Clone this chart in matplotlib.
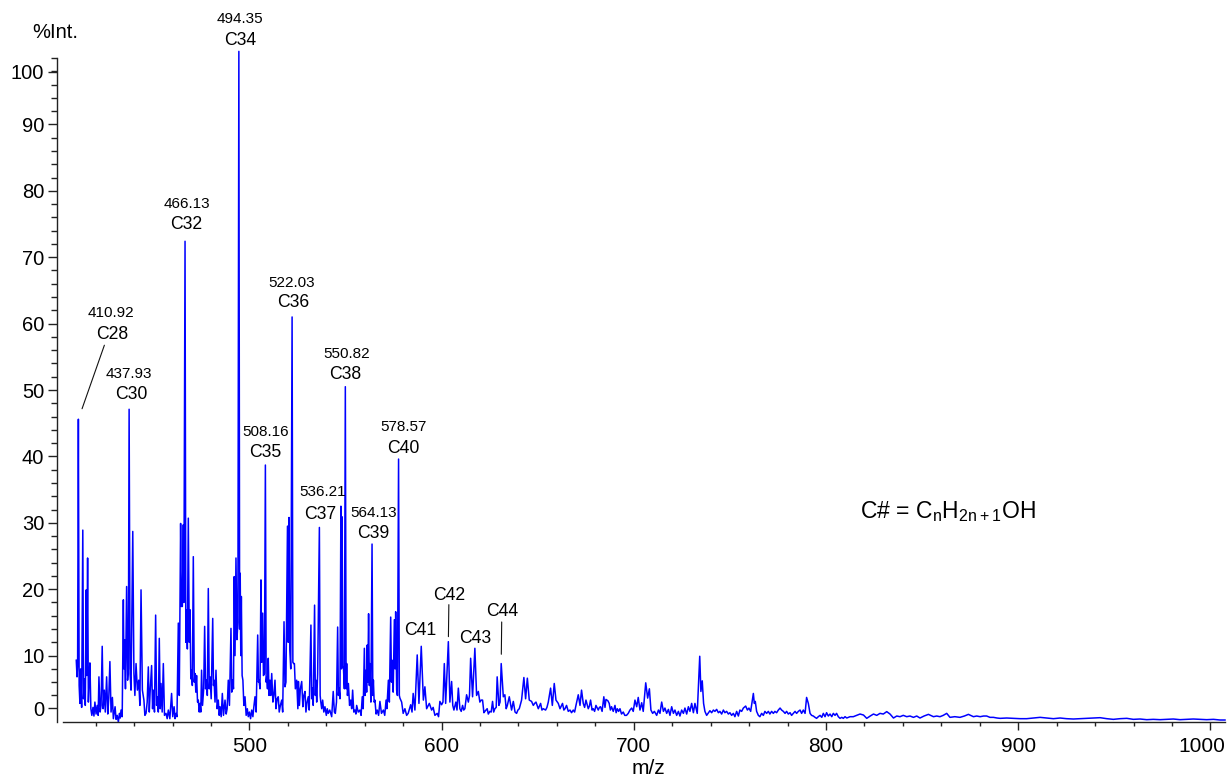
import numpy as np
import matplotlib
matplotlib.use("Agg")
import matplotlib.pyplot as plt
from matplotlib.ticker import FixedLocator
from matplotlib.transforms import ScaledTranslation

plt.rcParams['font.family'] = ['Liberation Sans', 'DejaVu Sans']

# spectrum (m/z, %Int.)
MZ_1 = [409.9, 410.3, 410.6, 411.0, 411.4, 411.8, 412.2, 412.7, 413.3, 413.7,
        414.1, 414.6, 415.1, 415.4, 415.8, 416.2, 416.6, 417.0, 417.5, 418.0,
        418.6, 419.1, 419.6, 420.2, 420.8, 421.3, 421.7, 422.3, 422.8, 423.4,
        423.9, 424.5, 425.0, 425.7, 426.3, 426.8, 427.4, 428.0, 428.7, 429.2,
        429.7, 430.1, 430.6, 431.2, 431.8, 432.4, 432.8, 433.2, 433.8, 434.4,
        434.7, 435.0, 435.5, 436.1, 436.6, 437.0, 437.4, 437.9, 438.4, 439.3,
        439.9, 440.4, 441.0, 441.7, 442.4, 443.0, 443.6, 444.3, 445.1, 445.6,
        446.2, 446.8, 447.4, 447.9, 448.3, 449.1, 449.6, 450.0, 450.6, 451.2,
        451.7, 452.1, 452.6, 453.1, 453.6, 454.0, 454.6, 455.2, 455.8, 456.6,
        457.2, 457.8, 458.6, 459.5, 460.1, 460.8, 461.3, 461.8, 462.3, 463.0,
        463.5, 464.2, 464.6, 465.1, 465.6, 465.9, 466.5, 466.9, 467.3, 467.7,
        468.2, 468.7, 469.1, 469.5, 469.9, 470.3, 470.8, 471.3, 471.7, 472.1,
        472.5, 473.0, 473.4, 473.9, 474.3, 474.7, 475.1, 475.6, 476.2, 476.7,
        477.2, 477.7, 478.1, 478.6, 479.1, 479.5, 480.1, 480.9, 481.3, 481.6,
        482.1, 482.6, 483.2, 483.8, 484.3, 484.7, 485.3, 485.9, 486.5, 487.3,
        487.9, 488.4, 489.0, 489.6, 490.4, 490.8, 491.3, 491.7, 492.1, 492.5,
        493.0, 493.5, 494.0, 494.5, 494.9, 495.2, 495.5, 495.8, 496.2, 496.6,
        497.1, 497.7, 498.3, 498.9, 499.4, 500.0, 500.6, 501.2, 501.8, 502.3,
        502.9, 503.5, 504.3, 504.7, 505.0, 505.5, 506.0, 506.4, 506.9, 507.3,
        507.8, 508.3, 508.7, 509.0, 509.4, 509.8, 510.2, 510.7, 511.1, 511.6,
        512.2, 512.7, 513.3, 513.8, 514.4, 515.0, 515.5, 516.1, 516.8, 517.3,
        518.0, 518.5, 519.0, 519.8, 520.2, 520.6, 521.0, 521.5, 522.2, 522.6,
        523.0, 523.4, 523.9, 524.6, 525.2, 525.5, 526.0, 526.5, 527.2, 527.8,
        528.3, 528.9, 529.4, 530.0, 530.6]
INT_1 = [9.3, 6.8, 8.5, 45.6, 5.5, 2.8, 8.0, 2.2, 28.9, 3.5,
         6.5, 2.5, 19.9, 7.0, 24.7, 3.0, 6.5, 8.9, 2.0, 1.0,
         2.2, 0.9, 3.0, 1.2, 2.5, 1.0, 6.8, 1.5, 2.5, 11.4,
         2.0, 4.8, 1.5, 6.8, 1.2, 3.5, 9.1, 1.5, 3.7, 0.5,
         1.5, 2.3, 0.4, 1.0, 0.0, 1.3, 0.6, 1.8, 0.8, 18.4,
         8.0, 12.4, 5.0, 20.4, 6.3, 8.0, 47.1, 7.3, 4.8, 28.7,
         7.3, 4.0, 8.8, 4.8, 6.3, 2.5, 19.9, 4.8, 3.3, 1.0,
         1.3, 3.0, 8.3, 1.5, 4.3, 8.5, 2.0, 4.8, 1.5, 16.1,
         2.5, 3.8, 1.5, 12.6, 2.0, 5.8, 1.5, 8.8, 1.0, 1.3,
         0.5, 1.8, 0.5, 4.3, 0.8, 2.3, 0.5, 1.3, 0.8, 14.9,
         4.0, 29.9, 17.4, 17.4, 29.7, 18.0, 72.4, 12.0, 16.9, 11.0,
         30.7, 12.0, 16.9, 6.5, 7.8, 5.5, 24.9, 6.0, 7.3, 4.5,
         7.0, 3.0, 3.3, 1.5, 2.8, 1.5, 7.8, 2.5, 5.0, 14.4,
         5.0, 6.3, 4.0, 20.1, 5.0, 6.8, 3.5, 15.6, 5.5, 6.3,
         3.0, 7.8, 2.0, 3.3, 1.0, 2.3, 0.8, 4.3, 1.0, 3.3,
         1.2, 2.0, 6.3, 2.5, 14.1, 4.5, 6.3, 5.0, 21.9, 10.0,
         24.7, 12.4, 15.0, 101.0, 14.0, 22.4, 10.0, 18.9, 7.0, 6.3,
         2.5, 3.8, 1.0, 2.0, 0.8, 1.5, 0.5, 1.8, 0.8, 2.3,
         3.8, 1.5, 13.1, 6.0, 6.3, 5.0, 21.4, 9.0, 16.4, 7.0,
         7.3, 38.7, 6.0, 6.8, 5.0, 9.6, 4.0, 6.3, 4.0, 7.3,
         3.0, 4.0, 6.3, 2.0, 3.5, 3.8, 1.5, 2.5, 3.3, 1.5,
         15.1, 5.3, 6.0, 29.5, 12.0, 30.8, 10.9, 8.0, 61.0, 9.0,
         8.8, 8.8, 5.0, 6.3, 2.0, 6.1, 2.5, 5.0, 6.1, 2.3,
         4.0, 4.6, 1.5, 3.0, 3.8]

MZ_2 = [531.1, 532.0, 532.4, 532.7, 533.2, 533.9, 534.3, 534.6, 535.0, 535.5,
        536.4, 536.8, 537.1, 537.6, 538.1, 538.7, 539.3, 540.0, 540.5, 541.0,
        541.8, 542.8, 543.6, 544.2, 544.7, 545.3, 545.9, 546.3, 546.6, 547.1,
        547.6, 547.9, 548.2, 548.6, 548.9, 549.4, 549.9, 550.3, 550.6, 551.0,
        551.5, 552.1, 552.7, 553.2, 553.7, 554.3, 554.9, 555.4, 555.8, 556.6,
        557.5, 558.1, 558.7, 559.2, 559.8, 560.2, 560.6, 561.0, 561.3, 561.6,
        562.0, 562.4, 562.7, 563.2, 563.8, 564.2, 564.5, 564.9, 565.3, 565.9,
        566.5, 567.2, 567.9, 568.7, 569.7, 570.4, 571.1, 571.5, 572.3, 572.8,
        573.5, 573.9, 574.3, 574.8, 575.4, 575.8, 576.1, 576.6, 577.0, 577.6,
        578.0, 578.3]
INT_2 = [1.8, 14.6, 3.5, 5.1, 2.5, 17.6, 4.0, 6.3, 3.0, 7.3,
         29.3, 4.0, 3.1, 2.0, 3.3, 1.5, 2.3, 1.0, 2.0, 1.3,
         1.8, 0.8, 4.6, 1.5, 1.3, 3.0, 14.3, 4.0, 5.1, 3.5,
         32.5, 8.0, 30.9, 8.3, 8.3, 5.0, 50.5, 5.0, 8.8, 4.0,
         5.8, 2.5, 3.3, 2.0, 4.8, 1.5, 1.8, 1.2, 2.5, 1.5,
         1.8, 1.0, 3.8, 2.0, 11.1, 4.0, 7.8, 4.5, 11.6, 6.0,
         16.3, 5.5, 8.8, 3.0, 26.8, 4.0, 6.3, 3.0, 3.3, 1.2,
         1.8, 1.0, 3.1, 1.3, 1.8, 1.0, 3.3, 2.0, 6.3, 3.0,
         15.8, 6.0, 9.3, 4.5, 15.4, 8.0, 16.6, 4.8, 4.0, 39.6,
         4.0, 3.6]

MZ_3 = [579.2, 580.0, 580.9, 581.8, 582.6, 583.9, 584.6, 585.2, 586.1, 587.3,
        588.2, 589.4, 590.5, 591.3, 592.2, 593.6, 594.8, 595.6, 596.5, 597.7,
        598.4, 599.1, 600.0, 600.7, 601.4, 602.1, 603.5, 604.3, 605.2, 605.8,
        606.4, 607.4, 608.0, 608.7, 609.5, 610.2, 610.9, 611.5, 612.1, 613.0,
        613.9, 614.5, 615.1, 616.1, 617.3, 618.2, 619.1, 619.9, 620.6, 621.3,
        622.0, 622.5, 623.7, 624.3, 625.1, 625.8, 626.5, 627.1, 627.7, 628.4,
        628.9, 629.8, 630.4, 631.0, 632.1, 632.9, 633.6, 634.2, 635.2, 636.4,
        637.3, 638.2, 639.0, 639.7, 640.4, 641.6, 642.8, 643.7, 644.6, 645.6,
        646.8, 647.7, 648.4, 649.1, 650.3, 651.5, 652.2, 652.9, 654.1, 654.8,
        655.5, 656.7, 657.6, 658.6, 659.5, 660.7, 661.6, 662.9, 663.6, 664.2,
        665.0, 665.9, 666.8, 667.6, 668.5, 669.2, 669.9, 671.1, 672.0, 672.8,
        673.7, 674.4, 675.1, 676.3, 676.9, 677.5, 678.3, 678.9, 679.6, 680.3,
        681.5, 682.1, 682.7, 683.5, 684.4, 685.0, 685.5, 686.5, 687.2, 687.8,
        688.4, 689.3, 690.2, 690.8, 691.4, 692.1, 692.8, 693.6, 694.5, 695.3,
        696.2, 697.1, 698.0]
INT_3 = [3.0, 1.3, 2.0, 1.0, 1.3, 2.6, 1.5, 4.3, 1.8, 10.1,
         2.8, 11.4, 3.3, 5.3, 2.0, 2.8, 1.8, 2.2, 1.0, 1.3,
         0.8, 3.1, 2.6, 3.0, 8.8, 2.8, 12.1, 3.0, 6.1, 2.5,
         1.8, 3.0, 1.8, 5.1, 2.0, 1.6, 2.5, 1.8, 2.0, 4.1,
         3.0, 4.0, 9.6, 3.8, 11.1, 4.0, 4.6, 3.0, 3.3, 3.3,
         1.4, 1.6, 2.0, 1.2, 1.6, 1.5, 3.1, 1.5, 2.0, 2.2,
         6.8, 2.5, 3.0, 8.8, 3.8, 4.1, 2.0, 2.5, 3.8, 1.8,
         3.1, 1.5, 1.3, 1.8, 2.0, 3.3, 6.7, 3.5, 6.6, 3.3,
         3.1, 2.5, 2.8, 3.0, 2.0, 2.8, 1.8, 2.0, 1.8, 2.2,
         3.0, 5.1, 2.5, 5.8, 3.3, 2.8, 2.0, 2.8, 1.8, 2.0,
         2.5, 1.6, 1.8, 1.4, 1.8, 1.5, 2.5, 4.1, 2.5, 4.8,
         2.8, 2.2, 3.3, 2.0, 2.4, 3.3, 1.8, 2.0, 1.6, 2.5,
         1.8, 2.2, 2.3, 1.6, 3.8, 2.2, 3.4, 3.2, 2.8, 1.8,
         2.3, 1.6, 2.5, 1.4, 2.0, 1.6, 2.0, 1.2, 1.5, 1.0,
         1.0, 1.3, 1.8]

MZ_4 = [698.9, 699.7, 700.6, 701.5, 702.3, 703.2, 704.1, 704.9, 706.2, 707.2,
        708.1, 708.9, 709.8, 710.7, 711.9, 712.8, 713.6, 714.5, 715.4, 716.2,
        717.1, 718.0, 718.8, 719.7, 720.6, 721.4, 722.3, 723.2, 724.0, 724.9,
        725.8, 726.6, 727.5, 728.4, 729.2, 730.1, 731.0, 731.8, 733.0, 734.3,
        734.9, 735.6, 736.3, 737.0, 737.9, 739.6, 740.5, 741.4, 742.2, 743.1,
        744.0, 744.8, 745.7, 746.6, 747.4, 748.3, 749.2, 750.0, 750.9, 751.8,
        752.6, 753.5, 754.4, 755.2, 756.1, 757.0, 758.2, 759.1, 759.9, 760.8,
        762.2, 762.7, 763.2, 763.9, 764.8, 765.6, 766.5, 767.4, 768.2, 769.1,
        770.0, 770.8, 771.7, 772.6, 773.4, 774.3, 775.2, 776.1, 776.9, 777.8,
        778.7, 779.5, 780.4, 781.3, 782.1, 783.0, 783.9, 784.7, 785.6, 786.5,
        787.3, 788.2, 789.1, 789.9, 790.8, 791.7, 792.5, 793.4, 794.3, 795.1,
        796.0, 796.9, 797.8, 798.6, 799.5, 800.3, 801.2, 802.1, 803.0, 803.8,
        804.7, 805.5, 806.4, 807.3, 808.2, 809.0, 809.9, 810.8]
INT_4 = [2.1, 1.6, 3.3, 2.3, 3.7, 1.8, 2.9, 1.6, 5.9, 3.6,
         5.0, 1.8, 1.3, 1.6, 1.0, 1.8, 1.3, 3.0, 1.6, 2.1,
         1.3, 1.9, 1.0, 2.3, 1.3, 1.8, 1.0, 1.6, 0.9, 1.8,
         1.3, 2.1, 1.2, 2.3, 1.6, 2.8, 1.4, 2.8, 1.3, 9.9,
         4.6, 6.2, 2.8, 1.6, 1.0, 1.7, 1.4, 1.8, 1.6, 1.9,
         1.4, 1.6, 1.2, 1.8, 1.4, 1.6, 1.2, 1.4, 1.0, 1.3,
         0.8, 1.6, 0.9, 1.8, 1.6, 2.1, 2.4, 1.8, 2.1, 1.6,
         4.3, 2.8, 3.1, 1.6, 1.0, 0.8, 1.3, 1.0, 1.6, 1.3,
         1.6, 1.2, 1.6, 1.3, 1.6, 1.4, 1.8, 2.1, 1.8, 1.6,
         1.3, 1.6, 1.2, 1.4, 1.0, 1.3, 1.6, 1.3, 1.6, 1.8,
         1.3, 1.8, 1.3, 3.7, 2.8, 1.3, 1.0, 0.9, 0.7, 0.55,
         0.8, 1.0, 0.7, 1.3, 0.8, 1.4, 0.9, 1.2, 0.8, 1.3,
         1.0, 1.3, 0.8, 0.55, 0.7, 0.55, 0.8, 0.6]

MZ_5 = [812.5, 814.2, 816.0, 817.7, 819.5, 821.2, 823.0, 824.7, 826.4, 828.1,
        829.8, 831.6, 833.3, 835.1, 836.8, 838.5, 840.2, 842.0, 843.7, 845.5,
        847.2, 848.9, 851.0, 853.3, 855.9, 857.6, 859.3, 861.0, 862.8, 864.5,
        867.0, 869.7, 872.0, 874.1, 876.7, 878.4, 880.2, 882.0, 883.6, 885.3,
        887.1, 889.0, 890.6, 894.0, 897.5, 901.0, 904.4, 908.0, 911.4, 914.9,
        918.3, 921.8, 925.2, 928.7, 932.2, 935.7, 939.1, 942.6, 946.1, 949.5,
        953.0, 956.5, 959.9, 963.4, 966.9, 970.3, 973.8, 977.3, 980.7, 984.2,
        987.7, 991.1, 994.6, 998.1, 1001.6, 1005.0, 1007.6]
INT_5 = [0.8, 0.8, 1.0, 1.2, 1.05, 0.55, 0.9, 1.2, 1.0, 1.3,
         1.2, 1.56, 1.2, 0.6, 0.9, 0.8, 1.0, 0.8, 0.9, 0.7,
         0.9, 0.6, 0.9, 1.15, 0.8, 0.9, 0.8, 1.0, 1.3, 0.7,
         0.8, 0.7, 0.9, 1.15, 0.8, 0.9, 0.8, 0.9, 0.9, 0.7,
         0.7, 0.6, 0.55, 0.6, 0.55, 0.5, 0.5, 0.6, 0.7, 0.6,
         0.5, 0.6, 0.5, 0.45, 0.5, 0.55, 0.6, 0.65, 0.5, 0.4,
         0.5, 0.55, 0.4, 0.45, 0.35, 0.4, 0.35, 0.4, 0.45, 0.35,
         0.4, 0.45, 0.4, 0.35, 0.4, 0.3, 0.3]

# labelled homologue peaks
PEAK_MZ = [410.92, 437.93, 466.13, 494.35, 508.16, 522.03, 536.21, 550.82, 564.13, 578.57]
PEAK_NAMES = ['C28', 'C30', 'C32', 'C34', 'C35', 'C36', 'C37', 'C38', 'C39', 'C40']
SMALL_PEAK_MZ = [589.4, 603.5, 617.3, 631.0]
SMALL_PEAK_NAMES = ['C41', 'C42', 'C43', 'C44']

mz = np.array(MZ_1 + MZ_2 + MZ_3 + MZ_4 + MZ_5)
intensity = np.array(INT_1 + INT_2 + INT_3 + INT_4 + INT_5)
assert len(mz) == len(intensity)


def peak_top(center, width=1.2):
    # tallest drawn point near a given m/z
    sel = np.where(np.abs(mz - center) <= width)[0]
    i = sel[np.argmax(intensity[sel])]
    return mz[i], intensity[i]


W, H = 1231, 778
fig = plt.figure(figsize=(W / 100, H / 100), dpi=100)
ax = fig.add_axes([63 / W, 56 / H, 1162 / W, 664 / H])

ax.plot(mz, intensity, color='#0000ff', lw=1.1, clip_on=False)

ax.set_xlim(403, 1007.6)
ax.set_ylim(0, 100)

# axis look (offset left spine, ticks outside)
for s in ['top', 'right']:
    ax.spines[s].set_visible(False)
ax.spines['left'].set_position(('outward', 4))
for s in ['left', 'bottom']:
    ax.spines[s].set_color('#222222')
    ax.spines[s].set_linewidth(1.0)

ax.xaxis.set_major_locator(FixedLocator([500, 600, 700, 800, 900, 1000]))
ax.xaxis.set_minor_locator(FixedLocator(np.arange(420, 1001, 20)))
# y labels sit where the picture puts them: 0 and 100 are pulled inward
ytick_pos = [2.1, 10, 20, 30, 40, 50, 60, 70, 80, 90, 97.9]
ytick_lab = ['0', '10', '20', '30', '40', '50', '60', '70', '80', '90', '100']
ax.set_yticks(ytick_pos)
ax.set_yticklabels(ytick_lab)
ax.yaxis.set_minor_locator(FixedLocator([v for v in range(4, 101, 2) if v % 10 != 0 or v == 100]))

ax.tick_params(axis='both', which='major', direction='out', color='#222222',
               labelsize=15, width=1.0)
ax.tick_params(axis='x', which='major', length=5.8, pad=5)
ax.tick_params(axis='x', which='minor', length=3.1, width=1.0, color='#222222')
ax.tick_params(axis='y', which='major', length=6.5, pad=3, labelsize=14.5)
ax.tick_params(axis='y', which='minor', length=4.0, width=1.0, color='#222222')

# the last x label is nudged left so it stays inside the figure
last = ax.xaxis.get_major_ticks()[-1].label1
last.set_transform(last.get_transform() + ScaledTranslation(-0.09, 0, fig.dpi_scale_trans))

fig.text(55 / W, 1 - 33 / H, '%Int.', fontsize=14.5, ha='center', va='center')
fig.text(648 / W, 1 - 768 / H, 'm/z', fontsize=15, ha='center', va='center')

# labelled peaks: number above name, offsets in px from the peak top
num_off = [(33, 106), (0, 35), (2, 37), (1, 32), (0, 33), (0, 34), (3, 35), (1, 33), (2, 31), (5, 32)]
lab_off = [(34, 85), (2, 15), (1, 17), (1, 11), (0, 13), (1, 14), (1, 13), (0, 12), (1, 11), (5, 11)]
px = 0.72  # points per pixel at 100 dpi
for m, name, no, lo in zip(PEAK_MZ, PEAK_NAMES, num_off, lab_off):
    x, y = peak_top(m)
    ax.annotate(f'{m:.2f}', xy=(x, y), xytext=(no[0] * px, no[1] * px),
                textcoords='offset points', ha='center', va='center', fontsize=11,
                annotation_clip=False)
    ax.annotate(name, xy=(x, y), xytext=(lo[0] * px, lo[1] * px),
                textcoords='offset points', ha='center', va='center', fontsize=12.7,
                annotation_clip=False)

# leader line for C28
x, y = peak_top(PEAK_MZ[0])
ax.annotate('', xy=(x, y), xytext=(26 * px, 74 * px), textcoords='offset points',
            arrowprops=dict(arrowstyle='-', color='#111111', lw=0.8, shrinkA=0, shrinkB=8))

small_off = [(-1, 16), (1, 46), (0, 10), (1, 52)]
for m, name, so in zip(SMALL_PEAK_MZ, SMALL_PEAK_NAMES, small_off):
    x, y = peak_top(m)
    ax.annotate(name, xy=(x, y), xytext=(so[0] * px, so[1] * px),
                textcoords='offset points', ha='center', va='center', fontsize=12.7)

# tick-style markers above C42 and C44
for m, top, gap in [(SMALL_PEAK_MZ[1], 37, 5), (SMALL_PEAK_MZ[3], 41.6, 9.3)]:
    x, y = peak_top(m)
    ax.annotate('', xy=(x, y), xytext=(0.5 * px, top * px), textcoords='offset points',
                arrowprops=dict(arrowstyle='-', color='#111111', lw=0.8, shrinkA=0, shrinkB=gap * px))

fig.text(860 / W, 1 - 512 / H, r'C# = C$_\mathregular{n}$H$_\mathregular{2n+1}$OH',
         fontsize=16.5, ha='left', va='center')

fig.savefig('out.png', dpi=100)
